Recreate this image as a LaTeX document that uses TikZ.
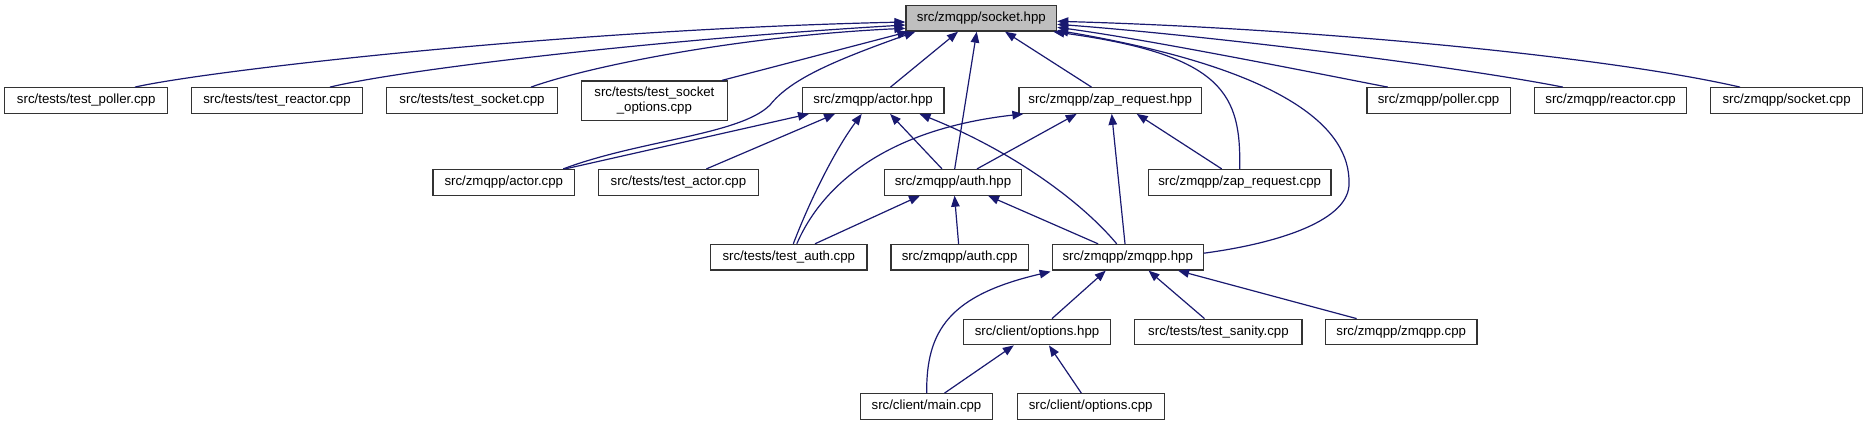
\documentclass[tikz,border=0pt]{standalone}
\usepackage{fontspec}
\setmainfont{Liberation Sans}
\usetikzlibrary{arrows.meta,calc}
\definecolor{edgeblue}{RGB}{25,25,112}
\definecolor{boxgray}{RGB}{191,191,191}
\begin{document}
\begin{tikzpicture}[x=1pt,y=-1pt,
  box/.style={draw=black!80, line width=1.2pt, fill=white, inner sep=0pt,
    minimum height=25.6pt, font=\fontsize{13.25}{14.5}\selectfont, align=center},
  dep/.style={draw=edgeblue, line width=1.2pt, -{Triangle[length=11pt,width=8.5pt]}}]
\useasboundingbox (0,0) rectangle (1867,425);
% nodes
\node[box, fill=boxgray, minimum width=150.7pt] (socket) at (981.3,18.3) {src/zmqpp/socket.hpp};
\node[box, minimum width=163pt] (tpoller) at (86.2,100.5) {src/tests/test\_poller.cpp};
\node[box, minimum width=170.6pt] (treactor) at (277,100.5) {src/tests/test\_reactor.cpp};
\node[box, minimum width=171.3pt] (tsocket) at (472,100.5) {src/tests/test\_socket.cpp};
\node[box, minimum width=146.2pt, minimum height=39.3pt] (tsockopt) at (654.4,100.6) {src/tests/test\_socket\\\_options.cpp};
\node[box, minimum width=141.8pt] (actorh) at (873.1,100.5) {src/zmqpp/actor.hpp};
\node[box, minimum width=182.4pt] (zaph) at (1110.2,100.5) {src/zmqpp/zap\_request.hpp};
\node[box, minimum width=143.2pt] (pollercpp) at (1438.5,100.5) {src/zmqpp/poller.cpp};
\node[box, minimum width=152.3pt] (reactorcpp) at (1610.6,100.5) {src/zmqpp/reactor.cpp};
\node[box, minimum width=151.6pt] (socketcpp) at (1786.6,100.5) {src/zmqpp/socket.cpp};
\node[box, minimum width=141.6pt] (actorcpp) at (503.8,182.3) {src/zmqpp/actor.cpp};
\node[box, minimum width=160.4pt] (tactor) at (678.4,182.3) {src/tests/test\_actor.cpp};
\node[box, minimum width=137.7pt] (authh) at (953,182.3) {src/zmqpp/auth.hpp};
\node[box, minimum width=182.7pt] (zapcpp) at (1239.7,182.3) {src/zmqpp/zap\_request.cpp};
\node[box, minimum width=156.3pt] (tauth) at (788.8,257.2) {src/tests/test\_auth.cpp};
\node[box, minimum width=137.3pt] (authcpp) at (959.6,257.2) {src/zmqpp/auth.cpp};
\node[box, minimum width=150.9pt] (zmqpph) at (1127.7,257.2) {src/zmqpp/zmqpp.hpp};
\node[box, minimum width=146.8pt] (optionsh) at (1037,332) {src/client/options.hpp};
\node[box, minimum width=167.1pt] (tsanity) at (1218.4,332) {src/tests/test\_sanity.cpp};
\node[box, minimum width=151.4pt] (zmqppcpp) at (1401.2,332) {src/zmqpp/zmqpp.cpp};
\node[box, minimum width=132.2pt] (maincpp) at (926.5,406.5) {src/client/main.cpp};
\node[box, minimum width=147.2pt] (optcpp) at (1090.7,406.5) {src/client/options.cpp};
% edges into socket.hpp
\draw[dep] ($(tpoller.north)+(48.8,0)$) .. controls (200,72) and (550,30) .. ($(socket.west)+(0,3.7)$);
\draw[dep] ($(treactor.north)+(53,0)$) .. controls (400,70) and (650,40) .. ($(socket.west)+(0,6.7)$);
\draw[dep] ($(tsocket.north)+(59,0)$) .. controls (590,66) and (740,36) .. ($(socket.west)+(0,10)$);
\draw[dep] ($(tsockopt.north east)+(-6,0)$) -- ($(socket.south west)+(3,0)$);
\draw[dep] ($(actorcpp.north east)+(-12,0)$) .. controls (640,140) and (740,135) .. (770,105) .. controls (790,80) and (830,62) .. ($(socket.south west)+(10,0)$);
\draw[dep] ($(actorh.north)+(17.4,0)$) -- ($(socket.south)+(-23.3,0)$);
\draw[dep] ($(authh.north)+(1.7,0)$) -- ($(socket.south)+(-4.6,0)$);
\draw[dep] ($(zaph.north)+(-18.7,0)$) -- ($(socket.south)+(23.7,0)$);
\draw[dep] ($(zapcpp.north)+(0,0)$) .. controls (1241,95) and (1225,55) .. ($(socket.south east)+(-4,0)$);
\draw[dep] ($(zmqpph.east)+(0,-4)$) .. controls (1280,243) and (1350,220) .. (1349,183) .. controls (1350,130) and (1290,70) .. ($(socket.east)+(0,12)$);
\draw[dep] ($(pollercpp.north)+(-50.8,0)$) .. controls (1300,70) and (1150,40) .. ($(socket.east)+(0,9)$);
\draw[dep] ($(reactorcpp.north)+(-47.7,0)$) .. controls (1450,65) and (1200,35) .. ($(socket.east)+(0,6)$);
\draw[dep] ($(socketcpp.north)+(-46.6,0)$) .. controls (1600,55) and (1300,28) .. ($(socket.east)+(0,3)$);
% edges into actor.hpp
\draw[dep] ($(actorcpp.north east)+(-10,0)$) -- ($(actorh.south west)+(7.4,0)$);
\draw[dep] ($(tactor.north)+(28,0)$) -- ($(actorh.south)+(-38,0)$);
\draw[dep] ($(tauth.north)+(4.5,0)$) .. controls (810,200) and (835,150) .. ($(actorh.south)+(-11.4,0)$);
\draw[dep] ($(authh.north)+(-11,0)$) -- ($(actorh.south)+(17,0)$);
\draw[dep] ($(zmqpph.north)+(-11,0)$) .. controls (1080,200) and (1010,150) .. ($(actorh.south)+(46.4,0)$);
% edges into zap_request.hpp
\draw[dep] ($(tauth.north)+(8,0)$) .. controls (820,190) and (880,130) .. ($(zaph.south west)+(5,0)$);
\draw[dep] ($(authh.north)+(24,0)$) -- ($(zaph.south)+(-33.5,0)$);
\draw[dep] ($(zmqpph.north)+(-2.7,0)$) -- ($(zaph.south)+(1.5,0)$);
\draw[dep] ($(zapcpp.north)+(-18,0)$) -- ($(zaph.south)+(26.5,0)$);
% edges into auth.hpp
\draw[dep] ($(tauth.north)+(26.2,0)$) -- ($(authh.south)+(-33,0)$);
\draw[dep] ($(authcpp.north)+(-1,0)$) -- ($(authh.south)+(1.5,0)$);
\draw[dep] ($(zmqpph.north)+(-29.7,0)$) -- ($(authh.south)+(35,0)$);
% edges into zmqpp.hpp
\draw[dep] ($(optionsh.north)+(15,0)$) -- ($(zmqpph.south)+(-21.9,0)$);
\draw[dep] ($(tsanity.north)+(-13.9,0)$) -- ($(zmqpph.south)+(20.8,0)$);
\draw[dep] ($(zmqppcpp.north)+(-44.6,0)$) -- ($(zmqpph.south east)+(-25.7,0)$);
\draw[dep] ($(maincpp.north)+(0.2,0)$) .. controls (926,330) and (950,295) .. ($(zmqpph.south west)+(-1,1)$);
% edges into options.hpp
\draw[dep] ($(maincpp.north)+(18,0)$) -- ($(optionsh.south)+(-23.2,0)$);
\draw[dep] ($(optcpp.north)+(-9.4,0)$) -- ($(optionsh.south)+(12,0)$);
\end{tikzpicture}
\end{document}
